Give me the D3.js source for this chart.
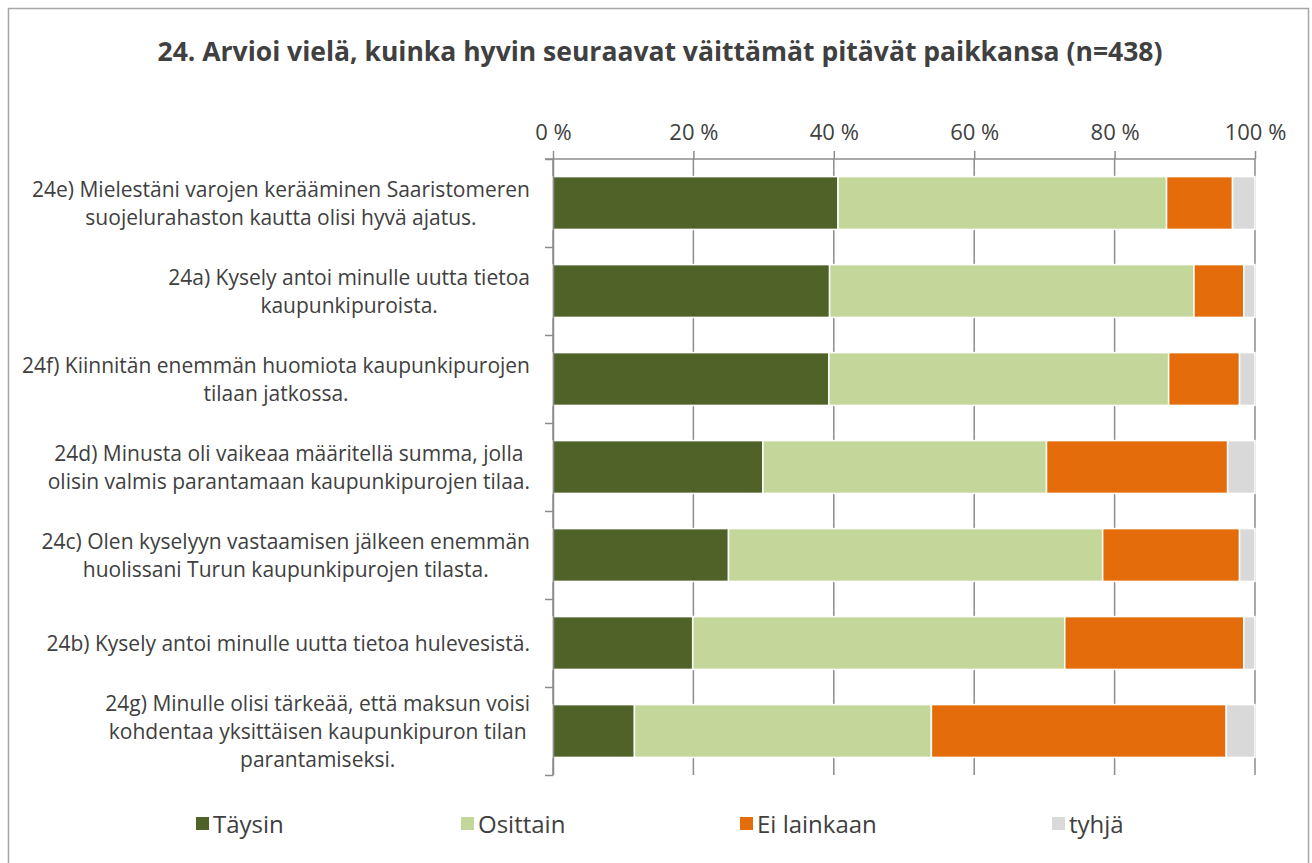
<!DOCTYPE html>
<html>
<head>
<meta charset="utf-8">
<script src="https://cdn.jsdelivr.net/npm/d3@7"></script>
<style>
  body { margin: 0; background: #fff; }
  text { font-family: "Open Sans", sans-serif; fill: #404040; }
</style>
</head>
<body>
<div id="c"></div>
<script>
// statements, top to bottom, each split into the lines shown on the chart
var labels = [
	["24e) Mielestäni varojen kerääminen Saaristomeren", "suojelurahaston kautta olisi hyvä ajatus."],
	["24a) Kysely antoi minulle uutta tietoa", "kaupunkipuroista."],
	["24f) Kiinnitän enemmän huomiota kaupunkipurojen", "tilaan jatkossa."],
	["24d) Minusta oli vaikeaa määritellä summa, jolla", "olisin valmis parantamaan kaupunkipurojen tilaa."],
	["24c) Olen kyselyyn vastaamisen jälkeen enemmän", "huolissani Turun kaupunkipurojen tilasta."],
	["24b) Kysely antoi minulle uutta tietoa hulevesistä."],
	["24g) Minulle olisi tärkeää, että maksun voisi", "kohdentaa yksittäisen kaupunkipuron tilan", "parantamiseksi."]
];

// shares in %
var taysin     = [40.6, 39.4, 39.3, 29.9, 25.0, 19.9, 11.6];
var osittain   = [46.8, 51.9, 48.4, 40.4, 53.3, 53.0, 42.3];
var eiLainkaan = [ 9.4,  7.1, 10.1, 25.8, 19.5, 25.5, 42.0];
var tyhja      = [ 3.2,  1.6,  2.2,  3.9,  2.2,  1.6,  4.1];

var series_names = ["Täysin", "Osittain", "Ei lainkaan", "tyhjä"];
var series_colors = ["#4f6228", "#c4d79b", "#e46c0a", "#d9d9d9"];
var x_ticks = [0, 0.2, 0.4, 0.6, 0.8, 1];

var title = "24. Arvioi vielä, kuinka hyvin seuraavat väittämät pitävät paikkansa (n=438)";

var width = 1312;
var height = 863;

var plot_left = 553, plot_right = 1255;
var plot_top = 159, plot_bottom = 775;

var rows = labels.map(function(l, i) {
	return { idx: i, lines: l, "Täysin": taysin[i], "Osittain": osittain[i],
		"Ei lainkaan": eiLainkaan[i], "tyhjä": tyhja[i] };
});

var svg = d3.select("#c").append("svg")
	.attr("width", width)
	.attr("height", height);

// chart frame
svg.append("rect")
	.attr("x", 8.5)
	.attr("y", 8.5)
	.attr("width", 1300)
	.attr("height", 870)
	.attr("fill", "none")
	.attr("stroke", "#a6a6a6")
	.attr("stroke-width", 1.5);

svg.append("text")
	.attr("x", 660)
	.attr("y", 61)
	.attr("text-anchor", "middle")
	.style("font-size", "26.5px")
	.style("font-weight", "bold")
	.text(title);

var x_scale = d3.scaleLinear()
	.domain([0, 1])
	.range([plot_left, plot_right]);

var y_scale = d3.scaleBand()
	.domain(rows.map(function(d) { return d.idx; }))
	.range([plot_top, plot_bottom])
	.paddingInner(0.4)
	.paddingOuter(0.2);

// boundaries between categories, for the left axis ticks
var y_lin = d3.scaleLinear()
	.domain([0, labels.length])
	.range([plot_top, plot_bottom]);

// gridlines
svg.append("g")
	.selectAll("line")
	.data(x_ticks)
	.enter()
	.append("line")
	.attr("x1", function(d) { return x_scale(d); })
	.attr("x2", function(d) { return x_scale(d); })
	.attr("y1", plot_top)
	.attr("y2", plot_bottom)
	.attr("stroke", "#8c8c8c")
	.attr("stroke-width", 1.5);

var stack = d3.stack().keys(series_names);
var stacked = stack(rows);

svg.append("g")
	.selectAll("g")
	.data(stacked)
	.enter()
	.append("g")
	.attr("fill", function(d, i) { return series_colors[i]; })
	.selectAll("rect")
	.data(function(d) { return d; })
	.enter()
	.append("rect")
	.attr("x", function(d) { return x_scale(d[0] / 100); })
	.attr("width", function(d) { return x_scale(d[1] / 100) - x_scale(d[0] / 100); })
	.attr("y", function(d) { return y_scale(d.data.idx); })
	.attr("height", y_scale.bandwidth())
	.attr("stroke", "#fff")
	.attr("stroke-width", 1.5);

// top axis
var x_axis = svg.append("g")
	.attr("transform", "translate(0," + plot_top + ")")
	.call(d3.axisTop(x_scale)
		.tickValues(x_ticks)
		.tickSize(8)
		.tickSizeOuter(0)
		.tickPadding(11)
		.tickFormat(function(d) { return Math.round(d * 100) + " %"; }));

x_axis.select(".domain").attr("stroke", "#8c8c8c").attr("stroke-width", 1.5)
	.attr("d", "M" + (plot_left - 8) + ",0H" + plot_right);
x_axis.selectAll(".tick line").attr("stroke", "#8c8c8c").attr("stroke-width", 1.5);
x_axis.selectAll(".tick text")
	.style("font-size", "22px")
	.style("font-family", "Open Sans")
	.attr("fill", "#404040");

// left axis
var y_axis = svg.append("g")
	.attr("transform", "translate(" + plot_left + ",0)")
	.call(d3.axisLeft(y_lin)
		.ticks(labels.length)
		.tickSize(8)
		.tickSizeOuter(0)
		.tickFormat(""));

y_axis.select(".domain").attr("stroke", "#8c8c8c").attr("stroke-width", 1.5);
y_axis.selectAll(".tick line").attr("stroke", "#8c8c8c").attr("stroke-width", 1.5);

// category labels: lines centred in a block that sits right of the axis
var label_right = 530;
var line_h = 28;
var lab = svg.append("g")
	.selectAll("g")
	.data(rows)
	.enter()
	.append("g");

lab.each(function(d) {
	var g = d3.select(this);
	var cy = y_scale(d.idx) + y_scale.bandwidth() / 2;
	var n = d.lines.length;
	var texts = g.selectAll("text")
		.data(d.lines)
		.enter()
		.append("text")
		.attr("text-anchor", "middle")
		.attr("y", function(t, j) { return cy + (j - (n - 1) / 2) * line_h + 7.5; })
		.style("font-size", "21px")
		.text(function(t) { return t; });
	var maxw = 0;
	texts.each(function() { maxw = Math.max(maxw, this.getComputedTextLength()); });
	texts.attr("x", label_right - maxw / 2);
});

// legend
var legend_x = [196, 461, 740, 1052];
var legend = svg.append("g")
	.selectAll("g")
	.data(series_names)
	.enter()
	.append("g")
	.attr("transform", function(d, i) { return "translate(" + legend_x[i] + ",824)"; });

legend.append("rect")
	.attr("x", 0)
	.attr("y", -7)
	.attr("width", 13)
	.attr("height", 13)
	.attr("fill", function(d, i) { return series_colors[i]; });

legend.append("text")
	.attr("x", 17)
	.attr("y", 8.5)
	.style("font-size", "24px")
	.text(function(d) { return d; });
</script>
</body>
</html>
